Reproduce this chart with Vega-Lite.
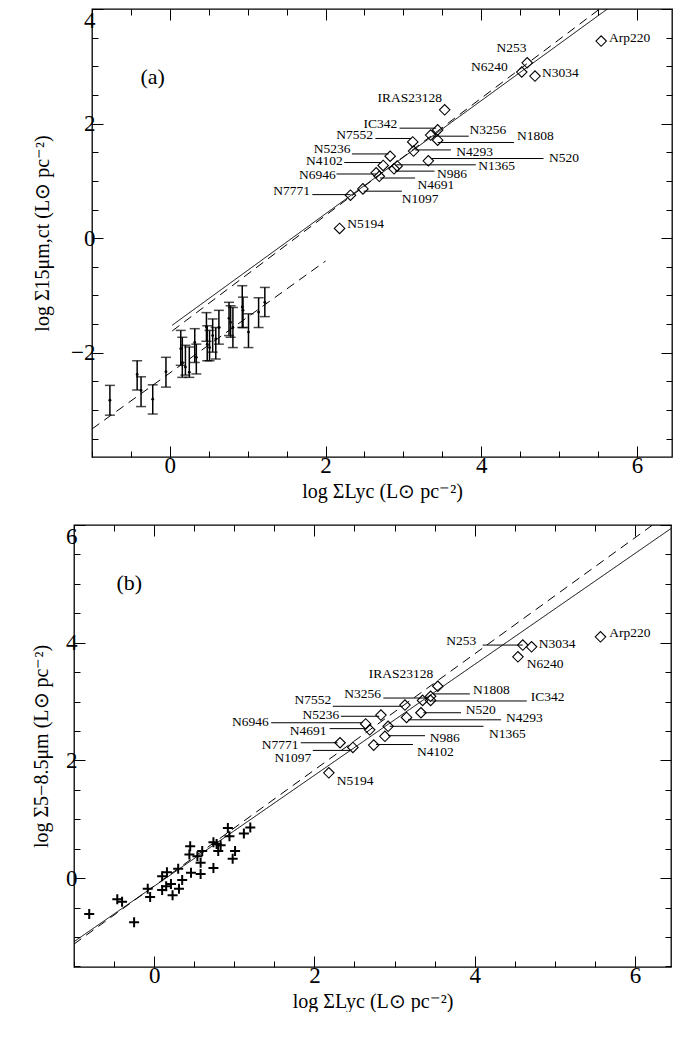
{
  "$schema": "https://vega.github.io/schema/vega-lite/v6.json",
  "padding": {"top": 7, "left": 5, "right": 3, "bottom": 0},
  "spacing": 21,
  "config": {
    "view": {"stroke": "black", "strokeWidth": 1.3},
    "axis": {"labelFont": "Liberation Serif", "labelFontSize": 23, "labelColor": "black", "titleFont": "Liberation Serif", "titleFontSize": 20, "titleFontWeight": "normal", "titleColor": "black", "tickColor": "black", "domain": false, "grid": false, "labelPadding": 6, "format": "d"},
    "axisY": {"labelFlush": true},
    "text": {"font": "Liberation Serif", "fontSize": 13.5, "color": "black"}
  },
  "datasets": {
    "galA": [
      {"name": "Arp220", "x": 5.54, "y": 3.44}, {"name": "N253", "x": 4.59, "y": 3.06}, {"name": "N6240", "x": 4.52, "y": 2.9},
      {"name": "N3034", "x": 4.69, "y": 2.83}, {"name": "IRAS23128", "x": 3.53, "y": 2.24}, {"name": "IC342", "x": 3.44, "y": 1.89},
      {"name": "N3256", "x": 3.35, "y": 1.8}, {"name": "N1808", "x": 3.44, "y": 1.71}, {"name": "N7552", "x": 3.12, "y": 1.68},
      {"name": "N4293", "x": 3.13, "y": 1.52}, {"name": "N5236", "x": 2.83, "y": 1.43}, {"name": "N520", "x": 3.32, "y": 1.35},
      {"name": "N1365", "x": 2.92, "y": 1.26}, {"name": "N4102", "x": 2.74, "y": 1.27}, {"name": "N986", "x": 2.88, "y": 1.21},
      {"name": "N6946", "x": 2.65, "y": 1.14}, {"name": "N4691", "x": 2.69, "y": 1.08}, {"name": "N1097", "x": 2.48, "y": 0.86},
      {"name": "N7771", "x": 2.32, "y": 0.75}, {"name": "N5194", "x": 2.18, "y": 0.17}
    ],
    "labA": [
      {"name": "Arp220", "x": 5.64, "y": 3.5, "side": "left"}, {"name": "N253", "x": 4.39, "y": 3.32, "side": "center"},
      {"name": "N6240", "x": 4.34, "y": 2.98, "side": "right"}, {"name": "N3034", "x": 4.78, "y": 2.88, "side": "left"},
      {"name": "IRAS23128", "x": 3.08, "y": 2.44, "side": "center"}, {"name": "N5194", "x": 2.28, "y": 0.24, "side": "left"},
      {"name": "IC342", "x": 2.92, "y": 2.0, "side": "right"}, {"name": "N3256", "x": 3.85, "y": 1.89, "side": "left"},
      {"name": "N1808", "x": 4.46, "y": 1.78, "side": "left"}, {"name": "N7552", "x": 2.61, "y": 1.8, "side": "right"},
      {"name": "N5236", "x": 2.32, "y": 1.56, "side": "right"}, {"name": "N4293", "x": 3.68, "y": 1.5, "side": "left"},
      {"name": "N4102", "x": 2.22, "y": 1.35, "side": "right"}, {"name": "N520", "x": 4.87, "y": 1.4, "side": "left"},
      {"name": "N1365", "x": 3.96, "y": 1.26, "side": "left"}, {"name": "N986", "x": 3.43, "y": 1.12, "side": "left"},
      {"name": "N6946", "x": 2.13, "y": 1.1, "side": "right"}, {"name": "N4691", "x": 3.18, "y": 0.93, "side": "left"},
      {"name": "N7771", "x": 1.8, "y": 0.82, "side": "right"}, {"name": "N1097", "x": 2.98, "y": 0.68, "side": "left"}
    ],
    "leadA": [
      {"name": "IC342", "x": 2.95, "x2": 3.42, "y": 1.92}, {"name": "N3256", "x": 3.38, "x2": 3.84, "y": 1.78},
      {"name": "N1808", "x": 3.44, "x2": 4.42, "y": 1.67}, {"name": "N7552", "x": 2.64, "x2": 3.1, "y": 1.74},
      {"name": "N5236", "x": 2.34, "x2": 2.81, "y": 1.47}, {"name": "N4293", "x": 3.15, "x2": 3.61, "y": 1.54},
      {"name": "N4102", "x": 2.24, "x2": 2.72, "y": 1.32}, {"name": "N520", "x": 3.36, "x2": 4.8, "y": 1.39},
      {"name": "N1365", "x": 2.91, "x2": 3.93, "y": 1.28}, {"name": "N986", "x": 2.89, "x2": 3.4, "y": 1.17},
      {"name": "N6946", "x": 2.14, "x2": 2.65, "y": 1.12}, {"name": "N4691", "x": 2.7, "x2": 3.15, "y": 1.05},
      {"name": "N7771", "x": 1.83, "x2": 2.32, "y": 0.76}, {"name": "N1097", "x": 2.49, "x2": 2.98, "y": 0.82}
    ],
    "errA": [
      {"x": -0.77, "y": -2.83, "lo": -3.09, "hi": -2.57}, {"x": -0.42, "y": -2.38, "lo": -2.65, "hi": -2.14},
      {"x": -0.37, "y": -2.66, "lo": -2.94, "hi": -2.42}, {"x": -0.22, "y": -2.81, "lo": -3.07, "hi": -2.56},
      {"x": -0.05, "y": -2.33, "lo": -2.6, "hi": -2.08}, {"x": 0.14, "y": -1.93, "lo": -2.22, "hi": -1.61},
      {"x": 0.16, "y": -2.17, "lo": -2.43, "hi": -1.73}, {"x": 0.2, "y": -2.25, "lo": -2.39, "hi": -1.87},
      {"x": 0.25, "y": -2.34, "lo": -2.43, "hi": -1.9}, {"x": 0.32, "y": -1.82, "lo": -2.17, "hi": -1.58},
      {"x": 0.34, "y": -2.08, "lo": -2.37, "hi": -1.85}, {"x": 0.47, "y": -1.55, "lo": -1.8, "hi": -1.3},
      {"x": 0.48, "y": -1.85, "lo": -2.14, "hi": -1.53}, {"x": 0.51, "y": -1.91, "lo": -2.14, "hi": -1.61},
      {"x": 0.55, "y": -1.7, "lo": -1.99, "hi": -1.41}, {"x": 0.59, "y": -1.76, "lo": -2.11, "hi": -1.56},
      {"x": 0.63, "y": -1.56, "lo": -1.85, "hi": -1.26}, {"x": 0.76, "y": -1.4, "lo": -1.7, "hi": -1.12},
      {"x": 0.78, "y": -1.47, "lo": -1.73, "hi": -1.18}, {"x": 0.81, "y": -1.56, "lo": -1.91, "hi": -1.21},
      {"x": 0.93, "y": -1.2, "lo": -1.56, "hi": -0.83}, {"x": 0.94, "y": -1.26, "lo": -1.56, "hi": -1.03},
      {"x": 1.01, "y": -1.64, "lo": -1.91, "hi": -1.32}, {"x": 1.14, "y": -1.29, "lo": -1.56, "hi": -1.04},
      {"x": 1.22, "y": -1.12, "lo": -1.37, "hi": -0.86}
    ],
    "lineA": [
      {"id": "fit", "style": "solid", "x": 0.03, "y": -1.52}, {"id": "fit", "style": "solid", "x": 5.65, "y": 4.03},
      {"id": "short", "style": "dashed", "x": 0.03, "y": -1.62}, {"id": "short", "style": "dashed", "x": 5.55, "y": 4.03},
      {"id": "long", "style": "dashed", "x": -1.0, "y": -3.33}, {"id": "long", "style": "dashed", "x": 2.0, "y": -0.4}
    ],
    "galB": [
      {"name": "Arp220", "x": 5.57, "y": 4.1}, {"name": "N253", "x": 4.6, "y": 3.96}, {"name": "N3034", "x": 4.71, "y": 3.93},
      {"name": "N6240", "x": 4.54, "y": 3.76}, {"name": "IRAS23128", "x": 3.54, "y": 3.26}, {"name": "N1808", "x": 3.45, "y": 3.09},
      {"name": "N3256", "x": 3.35, "y": 3.02}, {"name": "IC342", "x": 3.45, "y": 3.02}, {"name": "N7552", "x": 3.13, "y": 2.94},
      {"name": "N520", "x": 3.33, "y": 2.81}, {"name": "N4293", "x": 3.15, "y": 2.73}, {"name": "N5236", "x": 2.83, "y": 2.77},
      {"name": "N6946", "x": 2.64, "y": 2.62}, {"name": "N4691", "x": 2.69, "y": 2.52}, {"name": "N1365", "x": 2.92, "y": 2.58},
      {"name": "N986", "x": 2.88, "y": 2.41}, {"name": "N4102", "x": 2.74, "y": 2.26}, {"name": "N7771", "x": 2.32, "y": 2.3},
      {"name": "N1097", "x": 2.48, "y": 2.22}, {"name": "N5194", "x": 2.18, "y": 1.79}
    ],
    "labB": [
      {"name": "Arp220", "x": 5.68, "y": 4.17, "side": "left"}, {"name": "N253", "x": 4.02, "y": 4.03, "side": "right"},
      {"name": "N3034", "x": 4.8, "y": 3.98, "side": "left"}, {"name": "N6240", "x": 4.65, "y": 3.63, "side": "left"},
      {"name": "IRAS23128", "x": 3.08, "y": 3.47, "side": "center"}, {"name": "N1808", "x": 3.98, "y": 3.19, "side": "left"},
      {"name": "N3256", "x": 2.83, "y": 3.13, "side": "right"}, {"name": "IC342", "x": 4.7, "y": 3.07, "side": "left"},
      {"name": "N7552", "x": 2.21, "y": 3.03, "side": "right"}, {"name": "N520", "x": 3.89, "y": 2.85, "side": "left"},
      {"name": "N4293", "x": 4.39, "y": 2.72, "side": "left"}, {"name": "N5236", "x": 2.31, "y": 2.78, "side": "right"},
      {"name": "N6946", "x": 1.43, "y": 2.65, "side": "right"}, {"name": "N4691", "x": 2.15, "y": 2.5, "side": "right"},
      {"name": "N1365", "x": 4.18, "y": 2.45, "side": "left"}, {"name": "N986", "x": 3.44, "y": 2.38, "side": "left"},
      {"name": "N4102", "x": 3.28, "y": 2.14, "side": "left"}, {"name": "N7771", "x": 1.8, "y": 2.26, "side": "right"},
      {"name": "N1097", "x": 1.96, "y": 2.04, "side": "right"}, {"name": "N5194", "x": 2.28, "y": 1.65, "side": "left"}
    ],
    "leadB": [
      {"name": "N253", "x": 4.1, "x2": 4.6, "y": 3.96}, {"name": "N1808", "x": 3.48, "x2": 3.94, "y": 3.13},
      {"name": "N3256", "x": 2.86, "x2": 3.41, "y": 3.06}, {"name": "IC342", "x": 3.47, "x2": 4.65, "y": 3.01},
      {"name": "N7552", "x": 2.23, "x2": 3.1, "y": 2.92}, {"name": "N520", "x": 3.36, "x2": 3.83, "y": 2.81},
      {"name": "N4293", "x": 3.17, "x2": 4.33, "y": 2.69}, {"name": "N5236", "x": 2.33, "x2": 2.81, "y": 2.75},
      {"name": "N6946", "x": 1.46, "x2": 2.6, "y": 2.64}, {"name": "N4691", "x": 2.19, "x2": 2.65, "y": 2.54},
      {"name": "N1365", "x": 2.94, "x2": 4.11, "y": 2.58}, {"name": "N986", "x": 2.92, "x2": 3.38, "y": 2.42},
      {"name": "N4102", "x": 2.77, "x2": 3.23, "y": 2.27}, {"name": "N7771", "x": 1.83, "x2": 2.29, "y": 2.3},
      {"name": "N1097", "x": 1.98, "x2": 2.46, "y": 2.17}
    ],
    "crossB": [
      {"x": -0.81, "y": -0.61}, {"x": -0.46, "y": -0.36}, {"x": -0.4, "y": -0.4}, {"x": -0.25, "y": -0.75},
      {"x": -0.08, "y": -0.18}, {"x": -0.05, "y": -0.32}, {"x": 0.1, "y": -0.2}, {"x": 0.1, "y": 0.03},
      {"x": 0.16, "y": 0.1}, {"x": 0.15, "y": -0.14}, {"x": 0.21, "y": -0.1}, {"x": 0.23, "y": -0.29},
      {"x": 0.3, "y": 0.16}, {"x": 0.31, "y": -0.18}, {"x": 0.35, "y": -0.03}, {"x": 0.46, "y": 0.09},
      {"x": 0.58, "y": 0.07}, {"x": 0.44, "y": 0.4}, {"x": 0.45, "y": 0.54}, {"x": 0.54, "y": 0.37},
      {"x": 0.6, "y": 0.46}, {"x": 0.58, "y": 0.26}, {"x": 0.74, "y": 0.17}, {"x": 0.74, "y": 0.61},
      {"x": 0.78, "y": 0.58}, {"x": 0.8, "y": 0.46}, {"x": 0.83, "y": 0.56}, {"x": 0.92, "y": 0.85},
      {"x": 0.94, "y": 0.71}, {"x": 0.98, "y": 0.33}, {"x": 1.01, "y": 0.46}, {"x": 1.12, "y": 0.76},
      {"x": 1.2, "y": 0.86}
    ],
    "lineB": [
      {"id": "fit", "style": "solid", "x": -1.0, "y": -1.08}, {"id": "fit", "style": "solid", "x": 6.45, "y": 5.94},
      {"id": "dash", "style": "dashed", "x": -1.0, "y": -1.12}, {"id": "dash", "style": "dashed", "x": 6.22, "y": 6.0}
    ],
    "frame": [{"x": 0, "y": 0}]
  },
  "vconcat": [
    {
      "spacing": 0,
      "hconcat": [
        {
          "width": 26,
          "height": 448,
          "view": {"stroke": null},
          "data": {"name": "frame"},
          "mark": {"type": "point", "opacity": 0},
          "encoding": {}
        },
        {
          "width": 580,
          "height": 448,
          "resolve": {"axis": {"x": "independent", "y": "independent"}},
          "layer": [
            {
              "data": {"name": "lineA"},
              "mark": {"type": "line", "color": "black", "strokeWidth": 1, "clip": true},
              "encoding": {
                "x": {"field": "x", "type": "quantitative", "scale": {"domain": [-1, 6.45], "nice": false, "zero": false},
                  "axis": {"title": "log ΣLyc (L⊙ pc⁻²)", "values": [-1, -0.5, 0, 0.5, 1, 1.5, 2, 2.5, 3, 3.5, 4, 4.5, 5, 5.5, 6], "labelExpr": "datum.value % 2 == 0 ? datum.label : ''", "tickSize": {"condition": {"test": "datum.value % 2 == 0", "value": -11}, "value": -6}, "labelPadding": 8, "titlePadding": 4}},
                "y": {"field": "y", "type": "quantitative", "scale": {"domain": [-3.82, 4.0], "nice": false, "zero": false},
                  "axis": {"title": "log Σ15μm,ct (L⊙ pc⁻²)", "values": [-3.5, -3, -2.5, -2, -1.5, -1, -0.5, 0, 0.5, 1, 1.5, 2, 2.5, 3, 3.5, 4], "labelExpr": "datum.value % 2 == 0 ? datum.label : ''", "tickSize": {"condition": {"test": "datum.value % 2 == 0", "value": -11}, "value": -6}, "labelPadding": 8, "titlePadding": 18}},
                "detail": {"field": "id"},
                "strokeDash": {"field": "style", "type": "nominal", "scale": {"domain": ["solid", "dashed"], "range": [[1, 0], [9, 6]]}, "legend": null}
              }
            },
            {
              "data": {"name": "errA"},
              "mark": {"type": "rule", "color": "black", "strokeWidth": 1.5},
              "encoding": {
                "x": {"field": "x", "type": "quantitative", "scale": {"domain": [-1, 6.45]}, "axis": null},
                "y": {"field": "lo", "type": "quantitative", "scale": {"domain": [-3.82, 4.0]}, "axis": null},
                "y2": {"field": "hi"}
              }
            },
            {
              "data": {"name": "errA"},
              "mark": {"type": "tick", "orient": "horizontal", "color": "black", "size": 10, "thickness": 1.5},
              "encoding": {
                "x": {"field": "x", "type": "quantitative", "scale": {"domain": [-1, 6.45]}, "axis": null},
                "y": {"field": "lo", "type": "quantitative", "scale": {"domain": [-3.82, 4.0]}, "axis": null}
              }
            },
            {
              "data": {"name": "errA"},
              "mark": {"type": "tick", "orient": "horizontal", "color": "black", "size": 10, "thickness": 1.5},
              "encoding": {
                "x": {"field": "x", "type": "quantitative", "scale": {"domain": [-1, 6.45]}, "axis": null},
                "y": {"field": "hi", "type": "quantitative", "scale": {"domain": [-3.82, 4.0]}, "axis": null}
              }
            },
            {
              "data": {"name": "errA"},
              "mark": {"type": "circle", "color": "black", "size": 8, "opacity": 1},
              "encoding": {
                "x": {"field": "x", "type": "quantitative", "scale": {"domain": [-1, 6.45]}, "axis": null},
                "y": {"field": "y", "type": "quantitative", "scale": {"domain": [-3.82, 4.0]}, "axis": null}
              }
            },
            {
              "data": {"name": "leadA"},
              "mark": {"type": "rule", "color": "black", "strokeWidth": 1},
              "encoding": {
                "x": {"field": "x", "type": "quantitative", "scale": {"domain": [-1, 6.45]}, "axis": null},
                "x2": {"field": "x2"},
                "y": {"field": "y", "type": "quantitative", "scale": {"domain": [-3.82, 4.0]}, "axis": null}
              }
            },
            {
              "data": {"name": "galA"},
              "mark": {"type": "point", "shape": "diamond", "filled": false, "color": "black", "size": 110, "strokeWidth": 1.1, "opacity": 1},
              "encoding": {
                "x": {"field": "x", "type": "quantitative", "scale": {"domain": [-1, 6.45]}, "axis": null},
                "y": {"field": "y", "type": "quantitative", "scale": {"domain": [-3.82, 4.0]}, "axis": null}
              }
            },
            {
              "data": {"name": "labA"},
              "transform": [{"filter": "datum.side == 'left'"}],
              "mark": {"type": "text", "align": "left", "baseline": "middle"},
              "encoding": {
                "x": {"field": "x", "type": "quantitative", "scale": {"domain": [-1, 6.45]}, "axis": null},
                "y": {"field": "y", "type": "quantitative", "scale": {"domain": [-3.82, 4.0]}, "axis": null},
                "text": {"field": "name"}
              }
            },
            {
              "data": {"name": "labA"},
              "transform": [{"filter": "datum.side == 'right'"}],
              "mark": {"type": "text", "align": "right", "baseline": "middle"},
              "encoding": {
                "x": {"field": "x", "type": "quantitative", "scale": {"domain": [-1, 6.45]}, "axis": null},
                "y": {"field": "y", "type": "quantitative", "scale": {"domain": [-3.82, 4.0]}, "axis": null},
                "text": {"field": "name"}
              }
            },
            {
              "data": {"name": "labA"},
              "transform": [{"filter": "datum.side == 'center'"}],
              "mark": {"type": "text", "align": "center", "baseline": "middle"},
              "encoding": {
                "x": {"field": "x", "type": "quantitative", "scale": {"domain": [-1, 6.45]}, "axis": null},
                "y": {"field": "y", "type": "quantitative", "scale": {"domain": [-3.82, 4.0]}, "axis": null},
                "text": {"field": "name"}
              }
            },
            {
              "data": {"name": "frame"},
              "mark": {"type": "text", "text": "(a)", "fontSize": 22, "align": "center", "baseline": "middle"},
              "encoding": {
                "x": {"datum": -0.22, "type": "quantitative", "scale": {"domain": [-1, 6.45]}, "axis": null},
                "y": {"datum": 2.81, "type": "quantitative", "scale": {"domain": [-3.82, 4.0]}, "axis": null}
              }
            },
            {
              "data": {"name": "frame"},
              "mark": {"type": "point", "opacity": 0},
              "encoding": {
                "x": {"field": "x", "type": "quantitative", "scale": {"domain": [-1, 6.45]},
                  "axis": {"orient": "top", "title": null, "labels": false, "values": [-1, -0.5, 0, 0.5, 1, 1.5, 2, 2.5, 3, 3.5, 4, 4.5, 5, 5.5, 6], "tickSize": {"condition": {"test": "datum.value % 2 == 0", "value": -11}, "value": -6}}},
                "y": {"field": "y", "type": "quantitative", "scale": {"domain": [-3.82, 4.0]},
                  "axis": {"orient": "right", "title": null, "labels": false, "values": [-3.5, -3, -2.5, -2, -1.5, -1, -0.5, 0, 0.5, 1, 1.5, 2, 2.5, 3, 3.5, 4], "tickSize": {"condition": {"test": "datum.value % 2 == 0", "value": -11}, "value": -6}}}
              }
            }
          ]
        }
      ]
    },
    {
      "spacing": 0,
      "hconcat": [
        {
          "width": 25,
          "height": 442,
          "view": {"stroke": null},
          "data": {"name": "frame"},
          "mark": {"type": "point", "opacity": 0},
          "encoding": {}
        },
        {
          "width": 597,
          "height": 442,
          "resolve": {"axis": {"x": "independent", "y": "independent"}},
          "layer": [
            {
              "data": {"name": "lineB"},
              "mark": {"type": "line", "color": "black", "strokeWidth": 1, "clip": true},
              "encoding": {
                "x": {"field": "x", "type": "quantitative", "scale": {"domain": [-1, 6.45], "nice": false, "zero": false},
                  "axis": {"title": "log ΣLyc (L⊙ pc⁻²)", "values": [-1, -0.5, 0, 0.5, 1, 1.5, 2, 2.5, 3, 3.5, 4, 4.5, 5, 5.5, 6], "labelExpr": "datum.value % 2 == 0 ? datum.label : ''", "tickSize": {"condition": {"test": "datum.value % 2 == 0", "value": -11}, "value": -6}, "labelPadding": 8, "titlePadding": 4}},
                "y": {"field": "y", "type": "quantitative", "scale": {"domain": [-1.51, 6.0], "nice": false, "zero": false},
                  "axis": {"title": "log Σ5−8.5μm (L⊙ pc⁻²)", "values": [-1.5, -1, -0.5, 0, 0.5, 1, 1.5, 2, 2.5, 3, 3.5, 4, 4.5, 5, 5.5, 6], "labelExpr": "datum.value % 2 == 0 ? datum.label : ''", "tickSize": {"condition": {"test": "datum.value % 2 == 0", "value": -11}, "value": -6}, "labelPadding": 8, "titlePadding": 14}},
                "detail": {"field": "id"},
                "strokeDash": {"field": "style", "type": "nominal", "scale": {"domain": ["solid", "dashed"], "range": [[1, 0], [7, 5]]}, "legend": null}
              }
            },
            {
              "data": {"name": "crossB"},
              "mark": {"type": "point", "shape": "M-1,0H1M0,-1V1", "filled": false, "color": "black", "size": 100, "strokeWidth": 2, "opacity": 1},
              "encoding": {
                "x": {"field": "x", "type": "quantitative", "scale": {"domain": [-1, 6.45]}, "axis": null},
                "y": {"field": "y", "type": "quantitative", "scale": {"domain": [-1.51, 6.0]}, "axis": null}
              }
            },
            {
              "data": {"name": "leadB"},
              "mark": {"type": "rule", "color": "black", "strokeWidth": 1},
              "encoding": {
                "x": {"field": "x", "type": "quantitative", "scale": {"domain": [-1, 6.45]}, "axis": null},
                "x2": {"field": "x2"},
                "y": {"field": "y", "type": "quantitative", "scale": {"domain": [-1.51, 6.0]}, "axis": null}
              }
            },
            {
              "data": {"name": "galB"},
              "mark": {"type": "point", "shape": "diamond", "filled": false, "color": "black", "size": 110, "strokeWidth": 1.1, "opacity": 1},
              "encoding": {
                "x": {"field": "x", "type": "quantitative", "scale": {"domain": [-1, 6.45]}, "axis": null},
                "y": {"field": "y", "type": "quantitative", "scale": {"domain": [-1.51, 6.0]}, "axis": null}
              }
            },
            {
              "data": {"name": "labB"},
              "transform": [{"filter": "datum.side == 'left'"}],
              "mark": {"type": "text", "align": "left", "baseline": "middle"},
              "encoding": {
                "x": {"field": "x", "type": "quantitative", "scale": {"domain": [-1, 6.45]}, "axis": null},
                "y": {"field": "y", "type": "quantitative", "scale": {"domain": [-1.51, 6.0]}, "axis": null},
                "text": {"field": "name"}
              }
            },
            {
              "data": {"name": "labB"},
              "transform": [{"filter": "datum.side == 'right'"}],
              "mark": {"type": "text", "align": "right", "baseline": "middle"},
              "encoding": {
                "x": {"field": "x", "type": "quantitative", "scale": {"domain": [-1, 6.45]}, "axis": null},
                "y": {"field": "y", "type": "quantitative", "scale": {"domain": [-1.51, 6.0]}, "axis": null},
                "text": {"field": "name"}
              }
            },
            {
              "data": {"name": "labB"},
              "transform": [{"filter": "datum.side == 'center'"}],
              "mark": {"type": "text", "align": "center", "baseline": "middle"},
              "encoding": {
                "x": {"field": "x", "type": "quantitative", "scale": {"domain": [-1, 6.45]}, "axis": null},
                "y": {"field": "y", "type": "quantitative", "scale": {"domain": [-1.51, 6.0]}, "axis": null},
                "text": {"field": "name"}
              }
            },
            {
              "data": {"name": "frame"},
              "mark": {"type": "text", "text": "(b)", "fontSize": 22, "align": "center", "baseline": "middle"},
              "encoding": {
                "x": {"datum": -0.31, "type": "quantitative", "scale": {"domain": [-1, 6.45]}, "axis": null},
                "y": {"datum": 5.02, "type": "quantitative", "scale": {"domain": [-1.51, 6.0]}, "axis": null}
              }
            },
            {
              "data": {"name": "frame"},
              "mark": {"type": "point", "opacity": 0},
              "encoding": {
                "x": {"field": "x", "type": "quantitative", "scale": {"domain": [-1, 6.45]},
                  "axis": {"orient": "top", "title": null, "labels": false, "values": [-1, -0.5, 0, 0.5, 1, 1.5, 2, 2.5, 3, 3.5, 4, 4.5, 5, 5.5, 6], "tickSize": {"condition": {"test": "datum.value % 2 == 0", "value": -11}, "value": -6}}},
                "y": {"field": "y", "type": "quantitative", "scale": {"domain": [-1.51, 6.0]},
                  "axis": {"orient": "right", "title": null, "labels": false, "values": [-1.5, -1, -0.5, 0, 0.5, 1, 1.5, 2, 2.5, 3, 3.5, 4, 4.5, 5, 5.5, 6], "tickSize": {"condition": {"test": "datum.value % 2 == 0", "value": -11}, "value": -6}}}
              }
            }
          ]
        }
      ]
    }
  ]
}
